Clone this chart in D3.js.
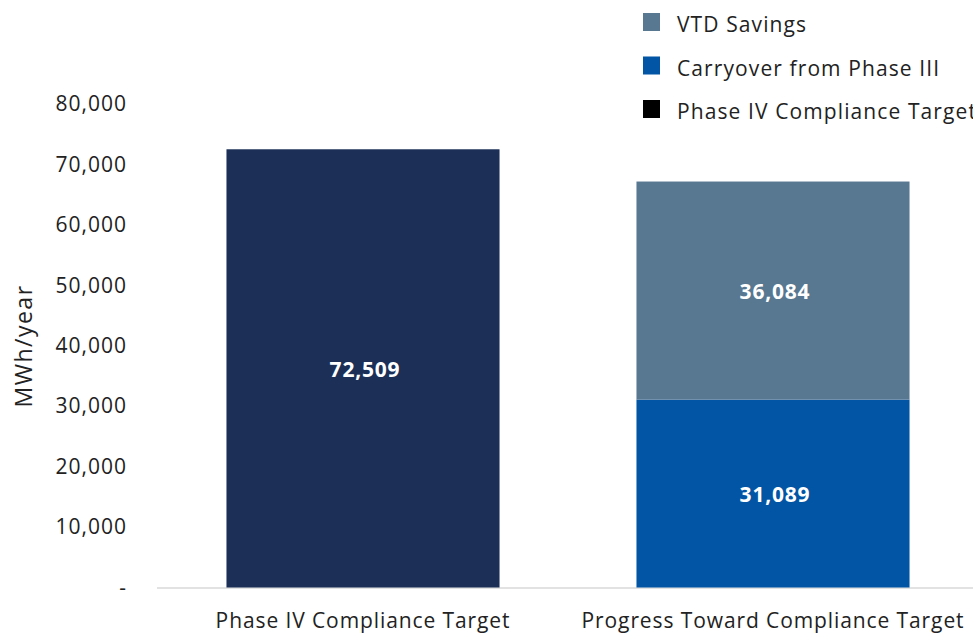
<!DOCTYPE html>
<html><head><meta charset="utf-8">
<script src="https://cdn.jsdelivr.net/npm/d3@7"></script>
<style>body{margin:0;background:#fff}svg{display:block;font-family:"Open Sans",sans-serif}</style>
</head><body><svg id="c" width="973" height="634"></svg>
<script>
const categories = ["Phase IV Compliance Target", "Progress Toward Compliance Target"];
const seriesNames = ["Phase IV Compliance Target", "Carryover from Phase III", "VTD Savings"];
const phaseIVTarget = [72509, 0];
const carryover = [0, 31089];
const vtdSavings = [0, 36084];
const yTicks = [0, 10000, 20000, 30000, 40000, 50000, 60000, 70000, 80000];
const legendOrder = ["VTD Savings", "Carryover from Phase III", "Phase IV Compliance Target"];

const barColors = {"Phase IV Compliance Target":"#1b2f57","Carryover from Phase III":"#0255a5","VTD Savings":"#587791"};
const legendColors = {"Phase IV Compliance Target":"#000000","Carryover from Phase III":"#0255a5","VTD Savings":"#587791"};

const svg = d3.select("#c");
const rows = categories.map((c,i)=>({cat:c,"Phase IV Compliance Target":phaseIVTarget[i],"Carryover from Phase III":carryover[i],"VTD Savings":vtdSavings[i]}));
const stack = d3.stack().keys(seriesNames)(rows);

const x = d3.scaleBand().domain(categories).range([158, 978]).paddingInner(0.334).paddingOuter(0.167);
const y = d3.scaleLinear().domain([0, 80000]).range([587.5, 104]);

// baseline
svg.append("line").attr("x1",157).attr("x2",973).attr("y1",y(0)+0.5).attr("y2",y(0)+0.5).attr("stroke","#d9d9d9").attr("stroke-width",1.5);

// bars
stack.forEach(s=>{
  svg.append("g").selectAll("rect").data(s.filter(d=>d[1]-d[0]>0)).join("rect")
    .attr("x",d=>x(d.data.cat)).attr("width",x.bandwidth())
    .attr("y",d=>y(d[1])).attr("height",d=>y(d[0])-y(d[1]))
    .attr("fill",barColors[s.key]);
  svg.append("g").selectAll("text").data(s.filter(d=>d[1]-d[0]>0)).join("text")
    .attr("x",d=>x(d.data.cat)+x.bandwidth()/2+2).attr("y",d=>y((d[0]+d[1])/2)+1)
    .attr("dy","0.35em").attr("text-anchor","middle").attr("fill","#fff")
    .attr("font-weight","bold").attr("font-size",21).attr("letter-spacing",0.8)
    .text(d=>d3.format(",")(d[1]-d[0]));
});

// y axis labels
const yAxis = d3.axisLeft(y).tickValues(yTicks).tickSize(0).tickPadding(0)
  .tickFormat(d=>d===0?"-":d3.format(",")(d));
const ga = svg.append("g").attr("transform","translate(127,0)").call(yAxis);
ga.select(".domain").remove();
ga.selectAll("text").attr("font-size",21).attr("letter-spacing",1).attr("fill","#222").attr("font-family","'Open Sans',sans-serif");

svg.append("text").attr("transform","translate(32,346) rotate(-90)").attr("text-anchor","middle")
  .attr("font-size",23).attr("letter-spacing",1.5).attr("fill","#222").text("MWh/year");

// x axis labels
const xAxis = d3.axisBottom(x).tickSize(0).tickPadding(0);
const gx = svg.append("g").attr("transform","translate(0,613)").call(xAxis);
gx.select(".domain").remove();
gx.selectAll("text").attr("font-size",21).attr("letter-spacing",0.9).attr("fill","#222").attr("font-family","'Open Sans',sans-serif");

// legend
const lg = svg.append("g").selectAll("g").data(legendOrder).join("g")
  .attr("transform",(d,i)=>`translate(643,${13+i*43.5})`);
lg.append("rect").attr("width",17).attr("height",18).attr("fill",d=>legendColors[d]);
lg.append("text").attr("x",34).attr("y",12).attr("dy","0.35em").attr("font-size",21).attr("letter-spacing",1.1).attr("fill","#222").text(d=>d);
</script></body></html>
